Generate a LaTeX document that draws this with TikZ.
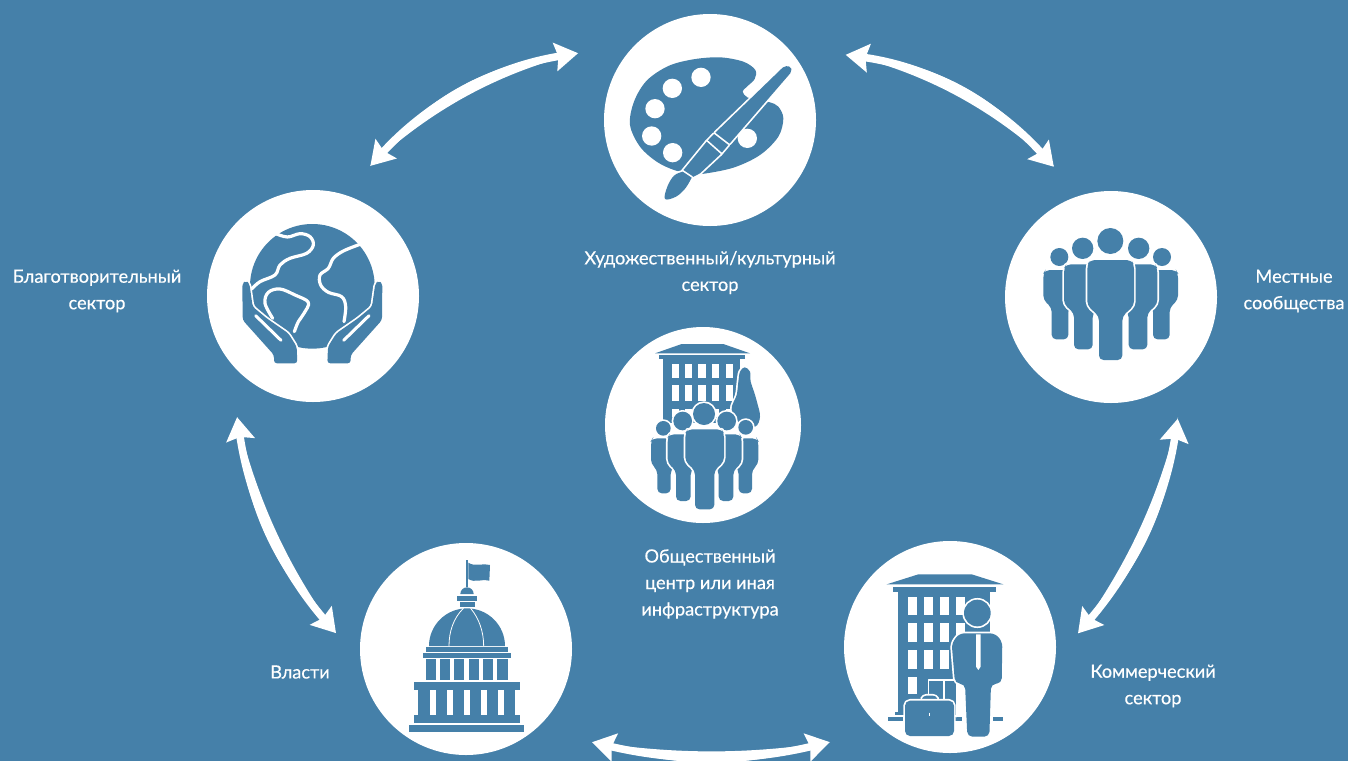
\documentclass[tikz,border=0pt]{standalone}
\usepackage{fontspec}
\setmainfont{Lato}[FakeBold=0.35]
\usetikzlibrary{arrows.meta,calc}
\definecolor{bgblue}{HTML}{4580A9}
\tikzset{
  disc/.style={circle,fill=white,inner sep=0pt,outer sep=0pt,minimum size=#1},
  lab/.style={text=white,align=center,inner sep=0pt,font=\fontsize{18.2}{26.5}\selectfont},
  arr/.style={draw=white,line width=7.5pt,{Stealth[length=23pt,width=28pt,inset=3pt]}-{Stealth[length=23pt,width=28pt,inset=3pt]}},
  ic/.style={fill=bgblue,preaction={draw=white,line width=3.4pt,line join=round}},
  wl/.style={draw=white,line cap=round,line join=round,fill=none},
}
% cx, headx, heady, headr, top, halfwidth, leghalf, arm bottom, bottom
\newcommand\Psn[9]{%
  \path[ic] (#2,#3) circle (#4);
  \path[ic,rounded corners=4.5pt]
    ({#1-0.88*#6},#5) -- ({#1+0.88*#6},#5) -- ({#1+#6},{#5+0.2*#6}) -- ({#1+#6},#8)
    -- ({#1+#7},{#8+0.45*#6}) -- ({#1+#7},#9) -- ({#1-#7},#9) -- ({#1-#7},{#8+0.45*#6})
    -- ({#1-#6},#8) -- ({#1-#6},{#5+0.2*#6}) -- cycle;
}
% swelling of an arrow's shaft: start, control, control, end, normal x, normal y
\newcommand\Swell[6]{%
  \fill[white] (#1) .. controls ($(#2)+(#5,#6)$) and ($(#3)+(#5,#6)$) .. (#4)
    .. controls ($(#3)-(#5,#6)$) and ($(#2)-(#5,#6)$) .. cycle;
}
\begin{document}
\begin{tikzpicture}[x=1pt,y=-1pt]
\useasboundingbox (0,0) rectangle (1348,761);
\fill[bgblue] (0,0) rectangle (1348,761);

% discs
\node[disc=212pt] (pal) at (710,120) {};
\node[disc=212pt] (globe) at (313,296) {};
\node[disc=212pt] (comm) at (1111,297) {};
\node[disc=196pt] (hub) at (703,425) {};
\node[disc=212pt] (gov) at (466,649) {};
\node[disc=212pt] (biz) at (950,647) {};

% palette icon
\begin{scope}[shift={(600,10)},scale=1/3]
  \fill[bgblue] plot[smooth cycle,tension=.55] coordinates {(90,345) (102,275) (140,212) (205,168) (280,148) (360,142) (430,155) (466,180) (464,207) (443,228) (428,245) (442,262) (475,272) (510,277) (535,290) (550,325) (535,380) (480,435) (400,473) (305,492) (268,490) (222,480) (170,455) (120,410)};
  \foreach \a/\b in {303/202,217/235,165/296,155/378,218/428,442/385}
    \fill[white] (\a,\b) circle (29);
  \path[ic,rounded corners=2pt] (553,168) -- (573,170) -- (575,185) -- (385,405) -- (342,372) -- cycle;
  \path[ic] (342,372) -- (385,405) -- (362,432) -- (320,395) -- cycle;
  \path[ic] (320,395) -- (362,432) -- (300,490) -- (275,503) -- (248,483) -- cycle;
  \path[ic] plot[smooth,tension=.6] coordinates {(248,485) (222,497) (202,530) (195,567) (228,560) (256,535) (275,503)} -- cycle;
\end{scope}

% globe icon
\begin{scope}[shift={(200,185)},scale=1/3]
  \fill[bgblue] (337,304) circle (187);
  \path[wl,line width=3.2pt] plot[smooth,tension=.6] coordinates {(225,145) (262,156) (300,146) (330,155) (340,180) (320,205) (270,220) (240,240) (225,270) (180,290) (155,312)};
  \path[wl,line width=3.2pt] plot[smooth,tension=.6] coordinates {(218,400) (195,355) (205,322) (240,312) (285,330) (325,352) (312,385) (295,410) (283,440)};
  \path[wl,line width=3.2pt] plot[smooth,tension=.6] coordinates {(480,178) (430,198) (400,220) (385,250) (360,270) (362,300) (385,322) (425,335) (437,365) (432,410)};
  \path[ic,rounded corners=3pt] (127,295) -- (138,288) -- (148,295) -- (158,365) -- (200,400) -- (265,445) -- (290,485) -- (292,535) -- (222,535) -- (222,510) -- (128,405) -- cycle;
  \path[wl,line width=3pt] (167,392) -- (243,466);
  \path[ic,rounded corners=3pt] (547,295) -- (536,288) -- (526,295) -- (516,365) -- (474,400) -- (409,445) -- (384,485) -- (382,535) -- (452,535) -- (452,510) -- (546,405) -- cycle;
  \path[wl,line width=3pt] (507,392) -- (431,466);
\end{scope}

% community icon
\begin{scope}[shift={(1000,185)},scale=1/3]
  \Psn{180}{178}{216}{27}{255}{50}{25}{345}{463}
  \Psn{484}{486}{216}{27}{255}{50}{25}{345}{463}
  \Psn{250}{248}{190}{32}{238}{58}{28}{358}{493}
  \Psn{414}{416}{190}{32}{238}{58}{28}{358}{493}
  \Psn{332}{331}{168}{39}{225}{70}{35}{362}{525}
\end{scope}

% hub icon
\begin{scope}[shift={(600,320)},scale=1/3]
  \fill[bgblue] (165,100) -- (245,72) -- (370,72) -- (450,100) -- cycle;
  \fill[bgblue] (178,105) rectangle (435,118);
  \fill[bgblue] (190,118) rectangle (420,310);
  \foreach \a in {215,255,295,335,377}{
    \fill[white] (\a,132) rectangle ++(22,43);
    \fill[white] (\a,195) rectangle ++(22,48);
    \fill[white] (\a,266) rectangle ++(22,24);
  }
  \path[ic] plot[smooth cycle,tension=.6] coordinates {(434,142) (450,155) (452,185) (462,215) (472,250) (480,290) (465,320) (420,310) (395,268) (410,225) (415,185) (420,155)};
  \Psn{192}{190}{325}{22}{355}{39}{20}{432}{520}
  \Psn{436}{437}{322}{22}{355}{39}{20}{432}{520}
  \Psn{250}{248}{303}{28}{343}{47}{22}{430}{543}
  \Psn{378}{380}{303}{28}{343}{47}{22}{430}{543}
  \Psn{314}{312}{282}{33}{328}{58}{29}{425}{568}
\end{scope}

% government icon
\begin{scope}[shift={(355,540)},scale=1/3]
  \fill[bgblue] (332,60) rectangle (338,142);
  \fill[bgblue] (340,68) .. controls (360,82) and (385,68) .. (405,75) -- (403,122) .. controls (385,115) and (360,130) .. (340,117) -- cycle;
  \fill[bgblue] (316,162) arc[start angle=180,end angle=360,radius=20] -- cycle;
  \fill[bgblue] (306,167) rectangle (366,182);
  \fill[bgblue] (315,187) rectangle (360,202);
  \fill[bgblue] (222,318) arc[start angle=180,end angle=360,x radius=114,y radius=113] -- cycle;
  \draw[white,line width=.8pt] (325,205) .. controls (295,235) and (282,275) .. (282,318);
  \draw[white,line width=.8pt] (347,205) .. controls (372,235) and (386,275) .. (386,318);
  \fill[bgblue] (213,322) rectangle (458,337);
  \fill[bgblue] (205,340) rectangle (467,355);
  \fill[bgblue] (213,358) rectangle (458,420);
  \foreach \a in {243,285,328,371,414} \fill[white] (\a,356) rectangle ++(13,64);
  \fill[bgblue] (177,425) rectangle (494,449);
  \fill[bgblue] (190,449) rectangle (480,525);
  \foreach \a in {226,277,328,379,430} \fill[white] (\a,449) rectangle ++(16,76);
  \fill[bgblue] (177,525) rectangle (494,548);
  \fill[bgblue] (161,555) rectangle (508,575);
\end{scope}

% business icon
\begin{scope}[shift={(840,540)},scale=1/3]
  \fill[bgblue] (140,133) -- (235,103) -- (395,103) -- (490,133) -- cycle;
  \fill[bgblue] (158,141) rectangle (468,157);
  \fill[bgblue] (175,157) rectangle (450,525);
  \fill[white] (352,430) rectangle (450,532);
  \fill[bgblue] (165,515) rectangle (240,525);
  \fill[bgblue] (143,532) rectangle (190,543);
  \fill[bgblue] (345,532) rectangle (365,543);
  \fill[bgblue] (460,532) rectangle (490,543);
  \foreach \a in {205,253,301,349}{
    \fill[white] (\a,172) rectangle ++(25,54);
    \fill[white] (\a,250) rectangle ++(25,55);
  }
  \foreach \a in {205,253,301} \fill[white] (\a,331) rectangle ++(25,55);
  \fill[white] (205,412) rectangle ++(25,50);
  \path[wl,line width=1.6pt] (265,475) -- (265,420) -- (350,420) -- (350,530);
  \path[wl,line width=1.6pt] (312,420) -- (312,480);
  \path[ic] (412,219) circle (40);
  \path[ic,rounded corners=5pt] (358,280) -- (465,280) -- (487,305) -- (485,430) -- (453,432) -- (448,590) -- (382,590) -- (375,432) -- (345,430) -- (335,310) -- cycle;
  \fill[white] (408,283) -- (422,283) -- (422,380) -- (415,390) -- (408,380) -- cycle;
  \path[ic,rounded corners=3pt] (243,482) -- (250,467) -- (288,467) -- (295,482) -- cycle;
  \path[ic,rounded corners=5pt] (195,482) rectangle (342,588);
  \draw[white,line width=1pt] (268,518) -- (268,528);
\end{scope}

% arrows
\draw[arr,shorten <=59pt,shorten >=39pt] (pal.134) .. controls (493,67) and (428,103) .. (globe.73);
\draw[arr,shorten <=60pt,shorten >=39pt] (pal.44) .. controls (931,67) and (996,103) .. (comm.107);
\draw[arr,shorten <=58pt,shorten >=38pt] (globe.217) .. controls (250,502) and (280,568) .. (gov.187);
\draw[arr,shorten <=46pt,shorten >=35pt] (comm.314) .. controls (1165,502) and (1134,568) .. (biz.353);
\draw[arr,shorten <=58pt,shorten >=55pt] (gov.311) .. controls (677,762) and (746,762) .. (biz.231);
\Swell{578,53}{493,67}{428,103}{370,166}{-3.6}{-6.6}
\Swell{846,54}{931,67}{996,103}{1054,166}{3.6}{-6.6}
\Swell{237,417}{250,502}{280,568}{336,633}{-6.8}{3.1}
\Swell{1178,417}{1165,502}{1134,568}{1078,633}{6.8}{3.1}
\Swell{593,742}{677,762}{746,762}{830,742}{0}{7.5}

% labels
\node[lab] (lpal) at (710,272.5) {Художественный/культурный\\сектор};
\node[lab] (lglobe) at (97,291) {Благотворительный\\сектор};
\node[lab] (lcomm) at (1294,291) {Местные\\сообщества};
\node[lab] (lhub) at (710,584) {Общественный\\центр или иная\\инфраструктура};
\node[lab] (lgov) at (300,672) {Власти};
\node[lab] (lbiz) at (1153,686) {Коммерческий\\сектор};
\end{tikzpicture}
\end{document}
